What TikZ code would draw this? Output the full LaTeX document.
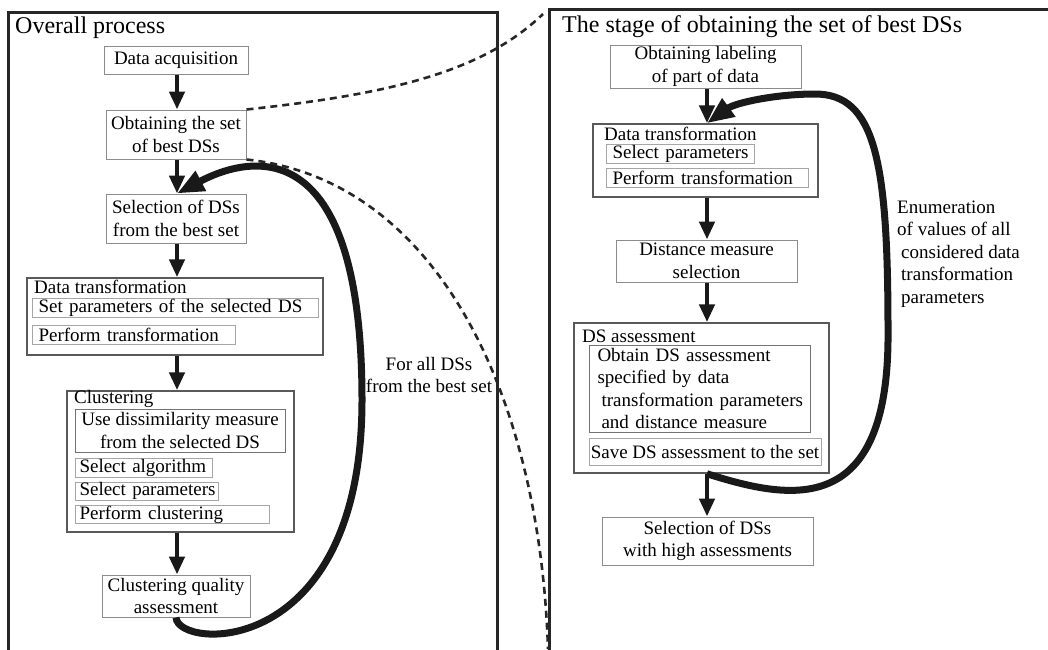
\documentclass[tikz,border=0pt]{standalone}
\usepackage{fontspec}
\setmainfont{Liberation Serif}
\usetikzlibrary{arrows.meta}
\newcommand{\boxfont}{\fontsize{19}{22.5}\selectfont}
\newcommand{\titlefont}{\fontsize{24}{28}\selectfont}
\tikzset{
  panel/.style={line width=3pt, draw=black!85},
  stepbox/.style={draw=black!45, line width=1pt, inner sep=0pt, align=center, font=\boxfont},
  groupbox/.style={draw=black!65, line width=1.5pt, inner sep=0pt},
  grouptitle/.style={anchor=west, inner sep=0pt, font=\boxfont},
  subbox/.style={draw=black!35, line width=1pt, inner ysep=0pt, anchor=west, align=left, minimum height=19pt, font=\boxfont},
  flow/.style={line width=4.5pt, draw=black!90, -{Triangle[length=18pt,width=15pt]}},
  loopback/.style={line width=7pt, draw=black!90, -{Triangle[length=27pt,width=21pt]}},
  zoomline/.style={dash pattern=on 7pt off 5pt, line width=2.6pt, draw=black!85}
}
\begin{document}
\begin{tikzpicture}[x=1pt,y=1pt,yscale=-1,xscale=1]
\useasboundingbox (0,0) rectangle (1048,649);
% frames
\draw[panel] (8,660) -- (8,12) -- (497,12) -- (497,660);
\draw[panel] (549,660) -- (549,9) -- (1060,9);
\node[anchor=west, inner sep=0pt, font=\titlefont] (overall) at (15,28) {Overall process};
\node[anchor=west, inner sep=0pt, font=\titlefont] (stage) at (562,27) {The stage of obtaining the set of best DSs};
% overall process
\node[stepbox, minimum width=144pt, minimum height=28pt] (acq) at (176,60) {Data acquisition};
\node[stepbox, minimum width=140pt, minimum height=49pt] (best) at (176,134.5) {Obtaining the set\\of best DSs};
\node[stepbox, minimum width=140pt, minimum height=49pt] (select) at (176,218.5) {Selection of DSs\\from the best set};
\node[groupbox, minimum width=296pt, minimum height=77pt] (dtrans) at (175,316.5) {};
\node[grouptitle] (dtranst) at (34,287) {Data transformation};
\node[subbox, inner xsep=6pt, text width=274pt] (setpar) at (32,307.5) {\mbox{Set parameters of the selected DS}};
\node[subbox, inner xsep=6pt, text width=191pt] (perftr) at (32,334.5) {\mbox{Perform transformation}};
\node[groupbox, minimum width=227pt, minimum height=141pt] (clust) at (180.5,461.5) {};
\node[grouptitle] (clustt) at (74,399) {Clustering};
\node[stepbox, draw=black!55, minimum width=210pt, minimum height=43pt] (usedis) at (180,430.5) {Use dissimilarity measure\\from the selected DS};
\node[subbox, inner xsep=4pt, text width=129pt] (selalg) at (75,467.5) {\mbox{Select algorithm}};
\node[subbox, inner xsep=4pt, text width=135pt, minimum height=18pt] (selpar) at (75,491) {\mbox{Select parameters}};
\node[subbox, inner xsep=4pt, text width=186pt, minimum height=17pt] (perfcl) at (75,514.5) {\mbox{Perform clustering}};
\node[stepbox, minimum width=148pt, minimum height=42pt] (quality) at (176,596) {Clustering quality\\assessment};
\node[align=center, inner sep=0pt, font=\boxfont] (forall) at (429,375) {For all DSs\\from the best set};
\coordinate (spine) at (177,0);
\draw[flow] (acq.south -| spine) -- (best.north -| spine);
\draw[flow] (best.south -| spine) -- (select.north -| spine);
\draw[flow] (select.south -| spine) -- (dtrans.north -| spine);
\draw[flow] (dtrans.south -| spine) -- (clust.north -| spine);
\draw[flow] (clust.south -| spine) -- (quality.north -| spine);
\draw[loopback] (quality.south) .. controls (178,650) and (362,660) .. (362,400) .. controls (362,130) and (250,155) .. (select.north -| spine);
% stage of obtaining the set of best DSs
\node[stepbox, minimum width=191pt, minimum height=43pt] (label) at (705.5,66.5) {Obtaining labeling\\of part of data};
\node[groupbox, minimum width=225pt, minimum height=73pt] (dtransr) at (705.5,160.5) {};
\node[grouptitle] (dtransrt) at (604,134) {Data transformation};
\node[subbox, inner xsep=6pt, text width=136pt] (selparr) at (606,153.5) {\mbox{Select parameters}};
\node[subbox, inner xsep=6pt, text width=190pt] (perftrr) at (606,177.5) {\mbox{Perform transformation}};
\node[stepbox, minimum width=181pt, minimum height=42pt] (dist) at (706.5,261) {Distance measure\\selection};
\node[groupbox, minimum width=255pt, minimum height=150pt] (assess) at (701.5,398) {};
\node[grouptitle] (assesst) at (582,336) {DS assessment};
\node[subbox, draw=black!55, inner xsep=8pt, text width=205pt, minimum height=87pt] (obtain) at (589,388.5) {\mbox{Obtain DS assessment}\\\mbox{specified by data}\\\mbox{\hspace*{4pt}transformation parameters}\\\mbox{\hspace*{4pt}and distance measure}};
\node[stepbox, draw=black!35, minimum width=232pt, minimum height=27pt] (save) at (705,451.5) {Save DS assessment to the set};
\node[stepbox, minimum width=211pt, minimum height=48pt] (highsel) at (707.5,541) {Selection of DSs\\with high assessments};
\node[anchor=west, align=left, inner sep=0pt, font=\boxfont] (enum) at (897,254) {Enumeration\\of values of all\\\hspace*{4pt}considered data\\\hspace*{4pt}transformation\\\hspace*{4pt}parameters};
\coordinate (spiner) at (707,0);
\draw[flow] (label.south -| spiner) -- (dtransr.north -| spiner);
\draw[flow] (dtransr.south -| spiner) -- (dist.north -| spiner);
\draw[flow] (dist.south -| spiner) -- (assess.north -| spiner);
\draw[flow] (assess.south -| spiner) -- (highsel.north -| spiner);
\draw[loopback] (assess.south -| spiner) .. controls (790,500) and (890,520) .. (888,330) .. controls (888,160) and (875,94) .. (815,94) .. controls (775,94) and (735,103) .. (dtransr.north -| spiner);
% zoom lines
\coordinate (zoomtop) at (543,14);
\coordinate (zoombot) at (548,649);
\draw[zoomline] (best.north east) .. controls (380,95) and (480,75) .. (zoomtop);
\draw[zoomline] (best.south east) .. controls (440,180) and (540,400) .. (zoombot);
\end{tikzpicture}
\end{document}
